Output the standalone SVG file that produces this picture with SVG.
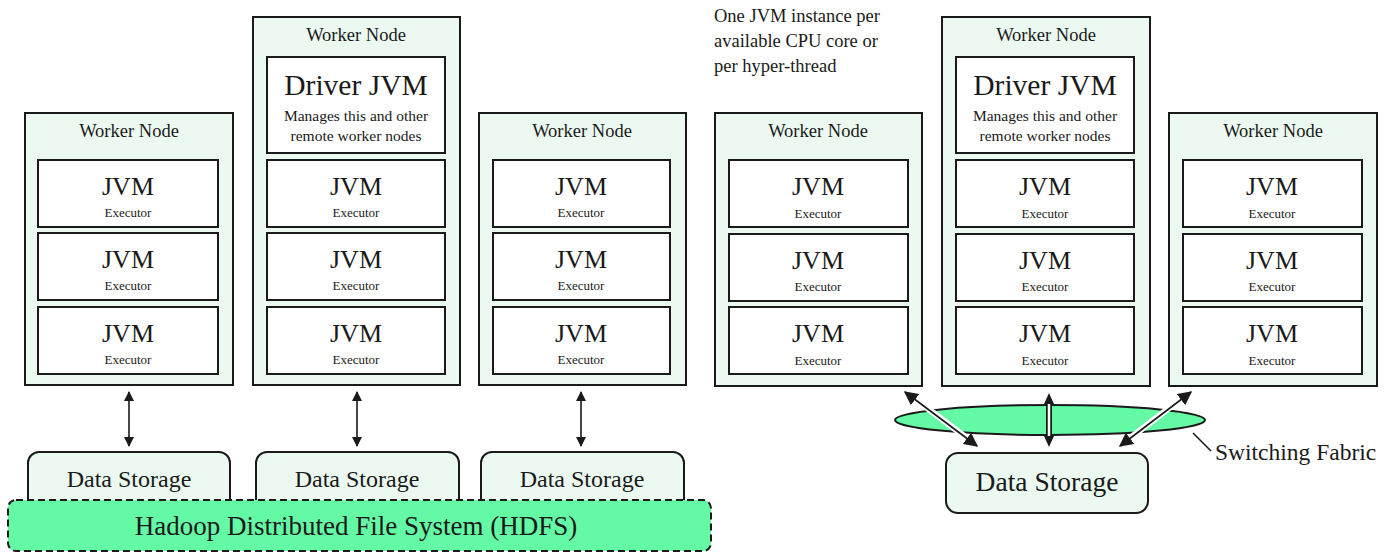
<svg xmlns="http://www.w3.org/2000/svg" width="1400" height="560" viewBox="0 0 1400 560">
<defs>
<style>
text{font-family:"Liberation Serif","DejaVu Serif",serif;fill:#1a1a1a;text-anchor:middle}
.node{fill:#ebf9f0;stroke:#1a1a1a;stroke-width:2}
.jvm{fill:#ffffff;stroke:#1a1a1a;stroke-width:2}
.title{font-size:18.5px}
.big{font-size:26px}
.small{font-size:13px}
.drv{font-size:29.5px}
.mng{font-size:15.5px}
.ds{fill:#ebf9f0;stroke:#1a1a1a;stroke-width:2}
.conn{stroke:#1a1a1a;stroke-width:1.6;fill:none}
.halo{stroke:#ffffff;stroke-width:6;fill:none}
.wide{stroke:#1a1a1a;stroke-width:6;fill:none}
.inner{stroke:#ffffff;stroke-width:2.5;fill:none}
</style>
<marker id="ah" viewBox="0 0 10 10" refX="9" refY="5" markerWidth="10" markerHeight="10" markerUnits="userSpaceOnUse" orient="auto-start-reverse">
<path d="M0,0 L10,5 L0,10 z" fill="#1a1a1a"/>
</marker>
<marker id="ah2" viewBox="0 0 10 10" refX="9" refY="5" markerWidth="14" markerHeight="14" markerUnits="userSpaceOnUse" orient="auto-start-reverse">
<path d="M0,0 L10,5 L0,10 z" fill="#1a1a1a"/>
</marker>
</defs>

<!-- storage left -->
<g id="ds1"><rect class="ds" x="28" y="452" width="202" height="70" rx="11"/><text x="129" y="487" style="font-size:24px">Data Storage</text></g>
<g id="ds2"><rect class="ds" x="256" y="452" width="203" height="70" rx="11"/><text x="357" y="487" style="font-size:24px">Data Storage</text></g>
<g id="ds3"><rect class="ds" x="481" y="452" width="203" height="70" rx="11"/><text x="582" y="487" style="font-size:24px">Data Storage</text></g>
<g id="hdfs"><rect x="8" y="500" width="703" height="51" rx="8" fill="#64f9a5" stroke="#1a1a1a" stroke-width="2" stroke-dasharray="7 4"/><text x="356" y="535" style="font-size:27px">Hadoop Distributed File System (HDFS)</text></g>

<!-- left worker nodes -->
<g id="wn1">
<rect class="node" x="25" y="113" width="208" height="272"/>
<text class="title" x="129" y="137">Worker Node</text>
<rect class="jvm" x="38" y="160" width="180" height="67"/><text class="big" x="128" y="195">JVM</text><text class="small" x="128" y="217">Executor</text>
<rect class="jvm" x="38" y="233" width="180" height="67"/><text class="big" x="128" y="268">JVM</text><text class="small" x="128" y="290">Executor</text>
<rect class="jvm" x="38" y="307" width="180" height="67"/><text class="big" x="128" y="342">JVM</text><text class="small" x="128" y="364">Executor</text>
</g>
<g id="wn2">
<rect class="node" x="253" y="17" width="207" height="368"/>
<text class="title" x="356" y="41">Worker Node</text>
<rect class="jvm" x="267" y="57" width="178" height="96"/><text class="drv" x="356" y="95">Driver JVM</text><text class="mng" x="356" y="121">Manages this and other</text><text class="mng" x="356" y="141">remote worker nodes</text>
<rect class="jvm" x="267" y="160" width="178" height="67"/><text class="big" x="356" y="195">JVM</text><text class="small" x="356" y="217">Executor</text>
<rect class="jvm" x="267" y="233" width="178" height="67"/><text class="big" x="356" y="268">JVM</text><text class="small" x="356" y="290">Executor</text>
<rect class="jvm" x="267" y="307" width="178" height="67"/><text class="big" x="356" y="342">JVM</text><text class="small" x="356" y="364">Executor</text>
</g>
<g id="wn3">
<rect class="node" x="479" y="113" width="207" height="272"/>
<text class="title" x="582" y="137">Worker Node</text>
<rect class="jvm" x="493" y="160" width="177" height="67"/><text class="big" x="581" y="195">JVM</text><text class="small" x="581" y="217">Executor</text>
<rect class="jvm" x="493" y="233" width="177" height="67"/><text class="big" x="581" y="268">JVM</text><text class="small" x="581" y="290">Executor</text>
<rect class="jvm" x="493" y="307" width="177" height="67"/><text class="big" x="581" y="342">JVM</text><text class="small" x="581" y="364">Executor</text>
</g>

<!-- note -->
<g id="note">
<text x="714" y="22" style="font-size:18.5px;text-anchor:start">One JVM instance per</text>
<text x="714" y="47" style="font-size:18.5px;text-anchor:start">available CPU core or</text>
<text x="714" y="72" style="font-size:18.5px;text-anchor:start">per hyper-thread</text>
</g>

<!-- right worker nodes -->
<g id="wn4">
<rect class="node" x="715" y="113" width="207" height="273"/>
<text class="title" x="818" y="137">Worker Node</text>
<rect class="jvm" x="729" y="160" width="179" height="67"/><text class="big" x="818" y="195">JVM</text><text class="small" x="818" y="218">Executor</text>
<rect class="jvm" x="729" y="234" width="179" height="67"/><text class="big" x="818" y="269">JVM</text><text class="small" x="818" y="291">Executor</text>
<rect class="jvm" x="729" y="307" width="179" height="67"/><text class="big" x="818" y="342">JVM</text><text class="small" x="818" y="365">Executor</text>
</g>
<g id="wn5">
<rect class="node" x="942" y="17" width="208" height="369"/>
<text class="title" x="1046" y="41">Worker Node</text>
<rect class="jvm" x="956" y="57" width="178" height="96"/><text class="drv" x="1045" y="95">Driver JVM</text><text class="mng" x="1045" y="121">Manages this and other</text><text class="mng" x="1045" y="141">remote worker nodes</text>
<rect class="jvm" x="956" y="160" width="178" height="67"/><text class="big" x="1045" y="195">JVM</text><text class="small" x="1045" y="218">Executor</text>
<rect class="jvm" x="956" y="234" width="178" height="67"/><text class="big" x="1045" y="269">JVM</text><text class="small" x="1045" y="291">Executor</text>
<rect class="jvm" x="956" y="307" width="178" height="67"/><text class="big" x="1045" y="342">JVM</text><text class="small" x="1045" y="365">Executor</text>
</g>
<g id="wn6">
<rect class="node" x="1169" y="113" width="208" height="273"/>
<text class="title" x="1273" y="137">Worker Node</text>
<rect class="jvm" x="1183" y="160" width="179" height="67"/><text class="big" x="1272" y="195">JVM</text><text class="small" x="1272" y="218">Executor</text>
<rect class="jvm" x="1183" y="234" width="179" height="67"/><text class="big" x="1272" y="269">JVM</text><text class="small" x="1272" y="291">Executor</text>
<rect class="jvm" x="1183" y="307" width="179" height="67"/><text class="big" x="1272" y="342">JVM</text><text class="small" x="1272" y="365">Executor</text>
</g>

<g id="fabric"><ellipse cx="1050" cy="420" rx="155" ry="15" fill="#64f9a5" stroke="#1a1a1a" stroke-width="2"/></g>
<g id="ds4"><rect class="ds" x="946" y="453" width="202" height="60" rx="12"/><text x="1047" y="491" style="font-size:27.5px">Data Storage</text></g>
<g id="fabriclabel"><text x="1215" y="460" style="font-size:23.5px;text-anchor:start">Switching Fabric</text></g>

<g id="connectors">
<line class="conn" x1="129" y1="392" x2="129" y2="446" marker-start="url(#ah)" marker-end="url(#ah)"/>
<line class="conn" x1="357" y1="392" x2="357" y2="446" marker-start="url(#ah)" marker-end="url(#ah)"/>
<line class="conn" x1="581" y1="392" x2="581" y2="446" marker-start="url(#ah)" marker-end="url(#ah)"/>
<line class="halo" x1="910" y1="395" x2="972" y2="442"/>
<line class="conn" x1="905" y1="392" x2="977" y2="446" stroke-width="2" marker-start="url(#ah2)" marker-end="url(#ah2)"/>
<line class="halo" x1="1186" y1="395" x2="1125" y2="442"/>
<line class="conn" x1="1191" y1="392" x2="1120" y2="446" stroke-width="2" marker-start="url(#ah2)" marker-end="url(#ah2)"/>
<line class="wide" x1="1049" y1="402" x2="1049" y2="438"/>
<line class="inner" x1="1049" y1="400" x2="1049" y2="440"/>
<path d="M1049,393 L1054,404 L1044,404 z M1049,447 L1054,436 L1044,436 z" fill="#1a1a1a"/>
<line class="conn" x1="1193" y1="433" x2="1211" y2="451"/>
</g>
</svg>
